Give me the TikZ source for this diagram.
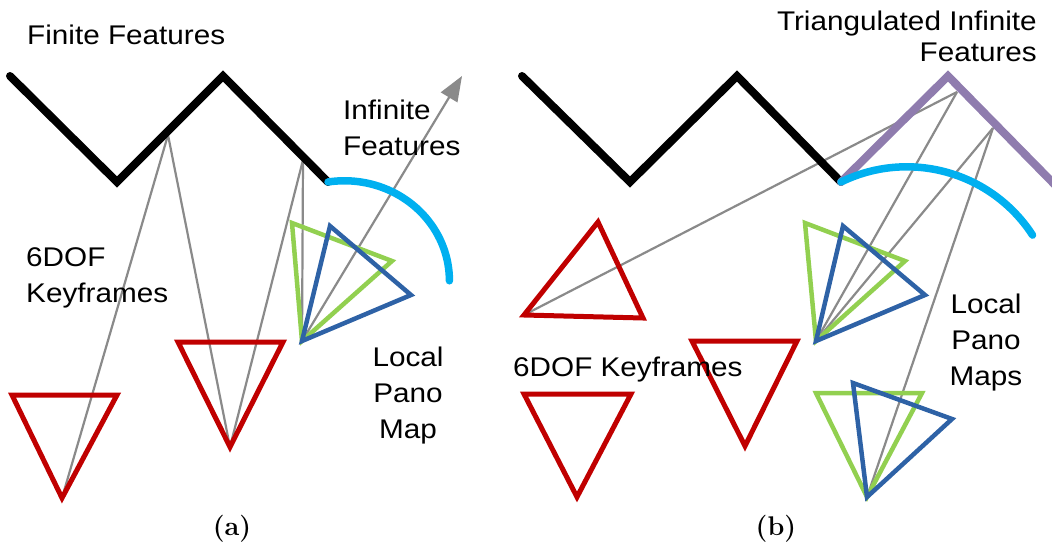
\documentclass[tikz,border=0pt]{standalone}
\usepackage{fontspec}
\newfontfamily\lblfont{Liberation Sans}[FakeStretch=1.1]
\usetikzlibrary{arrows.meta}

\definecolor{kfred}{RGB}{192,0,0}
\definecolor{panogreen}{RGB}{146,208,80}
\definecolor{panoblue}{RGB}{46,98,166}
\definecolor{arccyan}{RGB}{0,176,240}
\definecolor{featpurple}{RGB}{143,124,174}
\definecolor{raygray}{RGB}{138,138,138}

\begin{document}
\begin{tikzpicture}[
  x=1pt, y=-1pt,
  finite/.style={line width=8pt, black, line cap=round},
  triangulated/.style={line width=8pt, featpurple, line cap=round},
  infarc/.style={line width=7.5pt, arccyan, line cap=round},
  ray/.style={line width=2.2pt, raygray},
  keyframe/.style={line width=5pt, kfred},
  panoa/.style={line width=4.5pt, panogreen},
  panob/.style={line width=4.5pt, panoblue},
  lbl/.style={font=\lblfont\fontsize{27}{36}\selectfont, inner sep=0pt},
  sublbl/.style={font=\bfseries\fontsize{27}{30}\selectfont, inner sep=0pt},
]
\useasboundingbox (0,0) rectangle (1052,548);

% ---------------- (a) ----------------
% finite features (zigzag) and the points seen by the keyframes
\coordinate (fa1) at (10,76);
\coordinate (fa2) at (117,182);
\coordinate (fa3) at (223,76);
\coordinate (fa4) at (328,182);
\coordinate (qa1) at (168,135);
\coordinate (qa2) at (303,160);
\coordinate (infdir) at (462,76);

% keyframes (inverted triangles) and local pano map
\coordinate (kfa1) at (62,498);
\coordinate (kfa2) at (230,447);
\coordinate (pa) at (302,341);

% rays
\draw[ray] (qa1) -- (kfa1);
\draw[ray] (qa1) -- (kfa2);
\draw[ray] (qa2) -- (kfa2);
\draw[ray] (qa2) -- (pa);
\draw[ray, -{Triangle[length=25pt,width=19pt]}] (pa) -- (infdir);

\draw[finite] (fa1) -- (fa2) -- (fa3) -- (fa4);
\draw[infarc] (fa4) arc[start angle=-99, end angle=0, x radius=105, y radius=100];

\draw[keyframe] (12,395) -- (117,395) -- (kfa1) -- cycle;
\draw[keyframe] (178,342) -- (283,342) -- (kfa2) -- cycle;
\draw[panoa] (pa) -- (292,223) -- (392,261) -- cycle;
\draw[panob] (pa) -- (330,226) -- (411,295) -- cycle;

\node[lbl, anchor=base west] (finlbl) at (27,45) {Finite Features};
\node[lbl, anchor=base west, align=left] (inflbl) at (343,156) {Infinite\\Features};
\node[lbl, anchor=base west, align=left] (kfalbl) at (26,302) {6DOF\\Keyframes};
\node[lbl, anchor=base, align=center] (palbl) at (408,438) {Local\\Pano\\Map};
\node[sublbl, anchor=base] (capa) at (232,535) {(a)};

% ---------------- (b) ----------------
\coordinate (fb1) at (522,76);
\coordinate (fb2) at (630,182);
\coordinate (fb3) at (737,76);
\coordinate (fb4) at (841,182);
\coordinate (tb1) at (948,76);
\coordinate (tb2) at (1060,190);
\coordinate (qb1) at (957,92);
\coordinate (qb2) at (993,128);

\coordinate (kfb1) at (524,315);
\coordinate (kfb2) at (577,497);
\coordinate (kfb3) at (745,446);
\coordinate (pb1) at (816,341);
\coordinate (pb2) at (867,497);

% rays from the triangulated points
\draw[ray] (qb1) -- (kfb1);
\draw[ray] (qb1) -- (pb1);
\draw[ray] (qb2) -- (pb1);
\draw[ray] (qb2) -- (pb2);

\draw[finite] (fb1) -- (fb2) -- (fb3) -- (fb4);
\draw[triangulated] (fb4) -- (tb1) -- (tb2);
\draw[infarc] (fb4) arc[start angle=-116, end angle=-33, radius=150];

\draw[keyframe] (kfb1) -- (598,222) -- (643,318) -- cycle;
\draw[keyframe] (524,394) -- (631,394) -- (kfb2) -- cycle;
\draw[keyframe] (692,341) -- (797,341) -- (kfb3) -- cycle;
\draw[panoa] (pb1) -- (805,223) -- (905,261) -- cycle;
\draw[panob] (pb1) -- (843,226) -- (925,295) -- cycle;
\draw[panoa] (pb2) -- (816,393) -- (922,393) -- cycle;
\draw[panob] (pb2) -- (853,383) -- (952,419) -- cycle;

\node[lbl, anchor=base east, align=right, font=\lblfont\fontsize{27}{31}\selectfont] (trilbl) at (1037,62) {Triangulated Infinite\\Features};
\node[lbl, anchor=base west] (kfblbl) at (513,376) {6DOF Keyframes};
\node[lbl, anchor=base, align=center] (pblbl) at (986,385) {Local\\Pano\\Maps};
\node[sublbl, anchor=base] (capb) at (776,535) {(b)};
\end{tikzpicture}
\end{document}
